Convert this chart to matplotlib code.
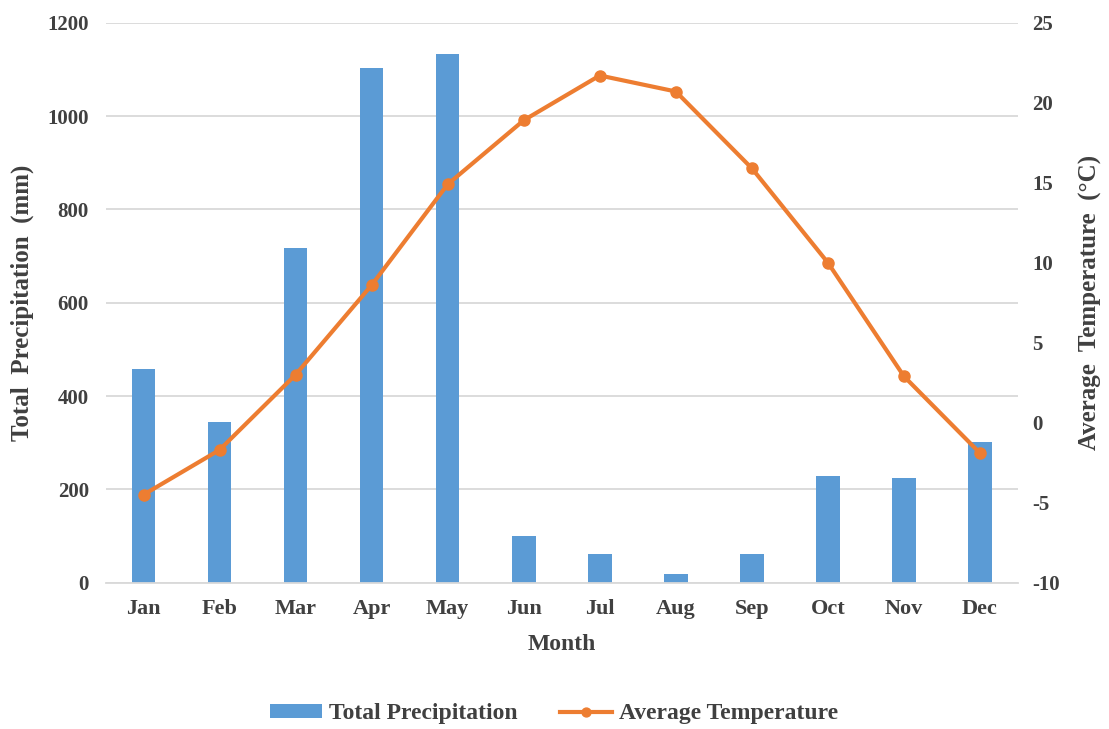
import matplotlib.pyplot as plt
import numpy as np

# monthly climate data
months = ['Jan', 'Feb', 'Mar', 'Apr', 'May', 'Jun',
          'Jul', 'Aug', 'Sep', 'Oct', 'Nov', 'Dec']
precip = [459, 344, 717, 1102, 1133, 100, 61, 19, 61, 229, 224, 301]
temp = [-4.5, -1.7, 3.0, 8.6, 14.9, 18.9, 21.7, 20.7, 15.9, 10.0, 2.9, -1.9]

txt = '#404040'
plt.rcParams['font.family'] = ['Liberation Serif', 'DejaVu Serif']
plt.rcParams['font.weight'] = 'bold'
plt.rcParams['axes.unicode_minus'] = False

W, H = 1109, 729
fig = plt.figure(figsize=(W/100, H/100), dpi=100)
# plot area in pixels: x 105.5..1018, y 22.7..582.7
ax = fig.add_axes([105.5/W, 1 - 582.7/H, 912.5/W, 560/H])
x = np.arange(len(months))

bars = ax.bar(x, precip, width=0.31, color='#5B9BD5', zorder=2,
              label='Total Precipitation')
ax.set_xlim(-0.5, 11.5)
ax.set_ylim(0, 1200)
ax.set_yticks(range(0, 1201, 200))
ax.set_xticks(x)
ax.set_xticklabels(months)
ax.grid(axis='y', color='#d9d9d9', lw=1.3, zorder=0)
for s in ['top', 'right', 'left']:
    ax.spines[s].set_visible(False)
ax.spines['bottom'].set_color('#d9d9d9')
ax.spines['bottom'].set_linewidth(1.3)
ax.tick_params(axis='x', length=0, labelsize=16, labelcolor=txt, pad=12)
ax.tick_params(axis='y', length=0, labelsize=15, labelcolor=txt, pad=12)
ax.set_ylabel('Total  Precipitation  (mm)', fontsize=18, color=txt,
              fontweight='bold', va='center')
ax.yaxis.set_label_coords((22 - 105.5)/912.5, 0.5)
ax.set_xlabel('Month', fontsize=17, color=txt, fontweight='bold', va='center')
ax.xaxis.set_label_coords(0.5, (582.7 - 644)/560)

ax2 = ax.twinx()
line, = ax2.plot(x, temp, color='#ED7D31', lw=3, marker='o', markersize=8,
                 zorder=3, label='Average Temperature')
ax2.set_ylim(-10, 25)
ax2.set_yticks(range(-10, 26, 5))
for s in ax2.spines.values():
    s.set_visible(False)
ax2.tick_params(length=0, labelsize=15, labelcolor=txt, pad=10)
ax2.set_ylabel('Average  Temperature  (\u00b0C)', fontsize=18, color=txt,
               fontweight='bold', va='center', rotation=90)
ax2.yaxis.set_label_coords((1090 - 105.5)/912.5, 0.5)

fig.legend([bars, line], ['Total Precipitation', 'Average Temperature'],
           loc='center', bbox_to_anchor=(554/W, 1 - 714/H), ncol=2,
           frameon=False, labelcolor=txt, handlelength=2.2,
           handletextpad=0.3, columnspacing=1.8, handleheight=0.55,
           markerscale=0.8, prop={'weight': 'bold', 'size': 17})

fig.savefig('out.png', dpi=100)
